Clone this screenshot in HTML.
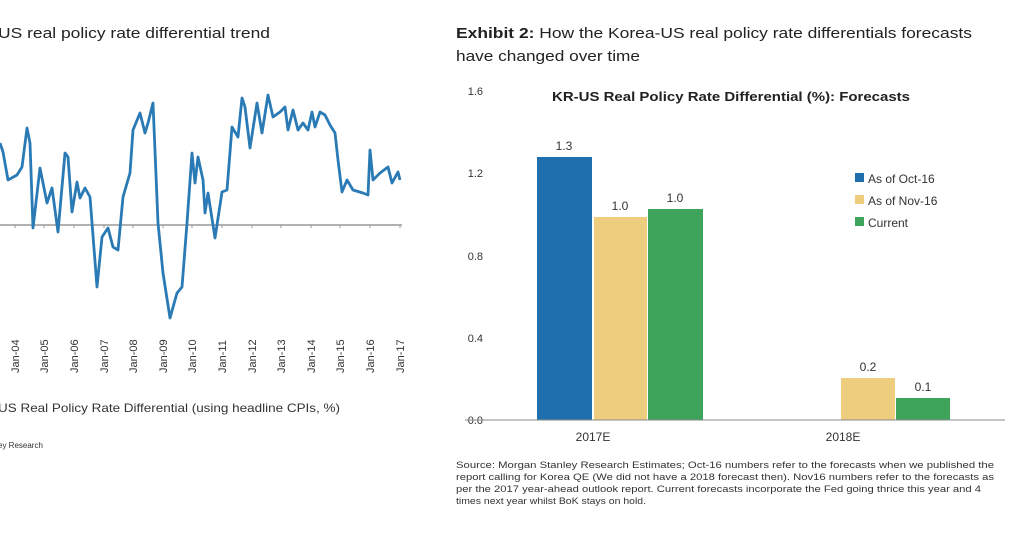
<!DOCTYPE html>
<html><head><meta charset="utf-8"><style>
body{margin:0;width:1024px;height:538px;background:#fff;overflow:hidden;font-family:"Liberation Sans",sans-serif;color:#222}
</style></head><body>
<svg width="1024" height="538" style="position:absolute;left:0;top:0" font-family="Liberation Sans, sans-serif">
<text x="-2" y="38" font-size="15" fill="#222" textLength="272" lengthAdjust="spacingAndGlyphs">US real policy rate differential trend</text>
<line x1="0" y1="225" x2="402" y2="225" stroke="#999" stroke-width="1.5"/>
<g stroke="#999" stroke-width="1">
<line x1="15" y1="225" x2="15" y2="228"/><line x1="44" y1="225" x2="44" y2="228"/><line x1="74" y1="225" x2="74" y2="228"/><line x1="104" y1="225" x2="104" y2="228"/><line x1="133" y1="225" x2="133" y2="228"/><line x1="163" y1="225" x2="163" y2="228"/><line x1="192" y1="225" x2="192" y2="228"/><line x1="222" y1="225" x2="222" y2="228"/><line x1="252" y1="225" x2="252" y2="228"/><line x1="281" y1="225" x2="281" y2="228"/><line x1="311" y1="225" x2="311" y2="228"/><line x1="340" y1="225" x2="340" y2="228"/><line x1="370" y1="225" x2="370" y2="228"/><line x1="400" y1="225" x2="400" y2="228"/>
</g>
<polyline fill="none" stroke="#2a7ab5" stroke-width="2.8" stroke-linejoin="round" points="0,143 3,152 8,180 17,175 22,167 27,128 30,143 33,228 40,168 47,203 52,188 58,232 65,153 68,157 72,212 77,182 80,198 85,188 90,197 97,287 102,237 108,228 113,247 118,250 123,197 130,173 133,130 140,113 145,133 148,123 153,103 158,223 163,273 170,318 177,293 182,287 187,223 192,153 195,183 198,157 203,180 205,213 208,193 215,238 222,192 227,190 232,127 238,137 242,98 245,107 250,148 257,103 262,133 268,95 273,117 280,112 285,107 288,130 293,110 298,130 303,123 308,130 312,112 315,127 320,112 325,115 330,125 335,133 338,160 342,192 347,180 353,190 363,193 368,195 370,150 373,180 380,173 388,167 392,183 398,172 400,180"/>
<g font-size="11" fill="#333">
<text transform="translate(19,373) rotate(-90)">Jan-04</text><text transform="translate(48,373) rotate(-90)">Jan-05</text><text transform="translate(78,373) rotate(-90)">Jan-06</text><text transform="translate(108,373) rotate(-90)">Jan-07</text><text transform="translate(137,373) rotate(-90)">Jan-08</text><text transform="translate(167,373) rotate(-90)">Jan-09</text><text transform="translate(196,373) rotate(-90)">Jan-10</text><text transform="translate(226,373) rotate(-90)">Jan-11</text><text transform="translate(256,373) rotate(-90)">Jan-12</text><text transform="translate(285,373) rotate(-90)">Jan-13</text><text transform="translate(315,373) rotate(-90)">Jan-14</text><text transform="translate(344,373) rotate(-90)">Jan-15</text><text transform="translate(374,373) rotate(-90)">Jan-16</text><text transform="translate(404,373) rotate(-90)">Jan-17</text>
</g>
<text x="-2" y="412" font-size="12" fill="#333" textLength="342" lengthAdjust="spacingAndGlyphs">US Real Policy Rate Differential (using headline CPIs, %)</text>
<text x="-2" y="448" font-size="8" fill="#333">ey Research</text>

<text x="456" y="38" font-size="15" fill="#222" textLength="516" lengthAdjust="spacingAndGlyphs"><tspan font-weight="bold">Exhibit 2:</tspan>  How the Korea-US real policy rate differentials forecasts</text>
<text x="456" y="61" font-size="15" fill="#222" textLength="184" lengthAdjust="spacingAndGlyphs">have changed over time</text>
<text x="552" y="101" font-size="13" font-weight="bold" fill="#222" textLength="358" lengthAdjust="spacingAndGlyphs">KR-US Real Policy Rate Differential (%): Forecasts</text>
<g font-size="11" fill="#333" text-anchor="end">
<text x="483" y="95">1.6</text><text x="483" y="177">1.2</text><text x="483" y="260">0.8</text><text x="483" y="342">0.4</text><text x="483" y="424">0.0</text>
</g>
<rect x="537" y="157" width="55" height="263" fill="#1f6fae"/>
<rect x="594" y="217" width="53" height="203" fill="#efcd7f"/>
<rect x="648" y="209" width="55" height="211" fill="#3ea45c"/>
<rect x="841" y="378" width="54" height="42" fill="#efcd7f"/>
<rect x="896" y="398" width="54" height="22" fill="#3ea45c"/>
<line x1="465" y1="420" x2="1005" y2="420" stroke="#888" stroke-width="1"/>
<g font-size="12" fill="#333" text-anchor="middle">
<text x="564" y="150">1.3</text><text x="620" y="210">1.0</text><text x="675" y="202">1.0</text>
<text x="868" y="371">0.2</text><text x="923" y="391">0.1</text>
<text x="593" y="441">2017E</text><text x="843" y="441">2018E</text>
</g>
<rect x="855" y="173" width="9" height="9" fill="#1f6fae"/>
<rect x="855" y="195" width="9" height="9" fill="#efcd7f"/>
<rect x="855" y="217" width="9" height="9" fill="#3ea45c"/>
<g font-size="12" fill="#333"><text x="868" y="183">As of Oct-16</text><text x="868" y="205">As of Nov-16</text><text x="868" y="227">Current</text></g>
<g font-size="9" fill="#333">
<text x="456" y="468" textLength="538" lengthAdjust="spacingAndGlyphs">Source: Morgan Stanley Research Estimates; Oct-16 numbers refer to the forecasts when we published the</text>
<text x="456" y="480" textLength="538" lengthAdjust="spacingAndGlyphs">report calling for Korea QE (We did not have a 2018 forecast then). Nov16 numbers refer to the forecasts as</text>
<text x="456" y="492" textLength="525" lengthAdjust="spacingAndGlyphs">per the 2017 year-ahead outlook report. Current forecasts incorporate the Fed going thrice this year and 4</text>
<text x="456" y="504" textLength="190" lengthAdjust="spacingAndGlyphs">times next year whilst BoK stays on hold.</text>
</g>
</svg>
</body></html>
